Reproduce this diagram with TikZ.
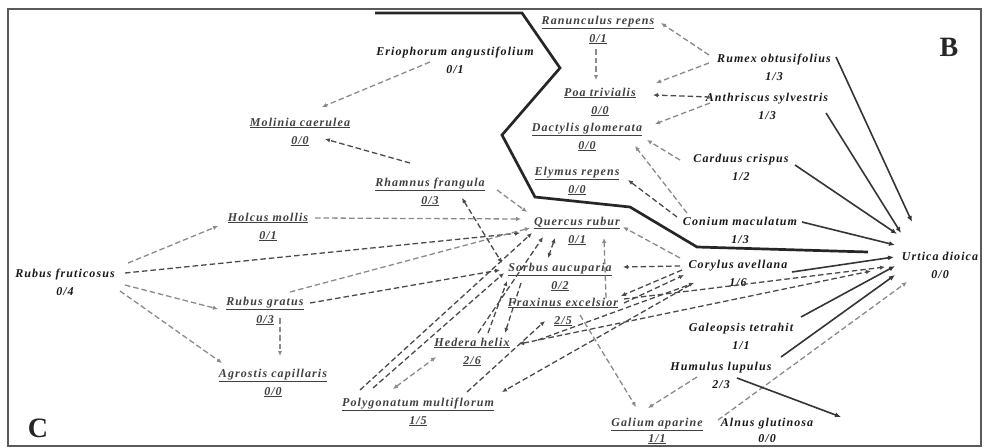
\documentclass[tikz,border=0pt]{standalone}
\usepackage{fontspec}
\setmainfont{Liberation Serif}
\newfontfamily\lblf[LetterSpace=9]{Liberation Serif}
\usetikzlibrary{arrows.meta}
\definecolor{lightc}{HTML}{8A8A8A}
\definecolor{darkc}{HTML}{4A4A4A}
\definecolor{solc}{HTML}{353535}
\definecolor{framec}{HTML}{5A5A5A}
\newcommand{\undl}[1]{\underline{#1}}
\tikzset{
  plant/.style={align=center, inner sep=1pt, font=\lblf\fontsize{12}{18}\selectfont\bfseries\itshape},
  plb/.style={plant, text=black!90},
  plu/.style={plant, text=black!75},
  ed/.style={dash pattern=on 5.5pt off 3pt, line width=1.3pt, -{Latex[length=5pt,width=4.5pt]}},
  edl/.style={ed, draw=lightc},
  edd/.style={ed, draw=darkc},
  bi/.style={{Latex[length=5pt,width=4.5pt]}-{Latex[length=5pt,width=4.5pt]}},
  sol/.style={line width=1.6pt, draw=solc, -{Latex[length=6pt,width=5pt]}},
  bigl/.style={font=\fontsize{28}{28}\selectfont\bfseries, text=black!85, inner sep=0pt}
}
\begin{document}
\begin{tikzpicture}[x=1pt,y=-1pt]
\useasboundingbox (0,0) rectangle (984,447);
\fill[white] (0,0) rectangle (984,447);
\draw[framec, line width=1.6pt] (8,9) rectangle (981,446);
% boundary line
\draw[black!85, line width=2.7pt, line join=miter] (375,13) -- (522,13) -- (560,68) -- (502,135) -- (535,197) -- (630,207) -- (697,247) -- (868,252);
% nodes
\node[plb] (erio) at (455,60) {Eriophorum angustifolium\\0/1};
\node[plu] (molinia) at (300,132) {\undl{Molinia caerulea}\\\undl{0/0}};
\node[plu] (ranunculus) at (598,30) {\undl{Ranunculus repens}\\\undl{0/1}};
\node[plb] (rumex) at (774,67) {Rumex obtusifolius\\1/3};
\node[plu] (poa) at (600,102) {\undl{Poa trivialis}\\\undl{0/0}};
\node[plb] (anthriscus) at (767,106) {Anthriscus sylvestris\\1/3};
\node[plu] (dactylis) at (587,137) {\undl{Dactylis glomerata}\\\undl{0/0}};
\node[plb] (carduus) at (741,167) {Carduus crispus\\1/2};
\node[plu] (elymus) at (577,181) {\undl{Elymus repens}\\\undl{0/0}};
\node[plu] (rhamnus) at (430,192) {\undl{Rhamnus frangula}\\\undl{0/3}};
\node[plb] (conium) at (740,230) {Conium maculatum\\1/3};
\node[plu] (quercus) at (577,231) {\undl{Quercus rubur}\\\undl{0/1}};
\node[plu] (holcus) at (268,227) {\undl{Holcus mollis}\\\undl{0/1}};
\node[plb] (urtica) at (940,265) {Urtica dioica\\0/0};
\node[plb] (corylus) at (738,273) {Corylus avellana\\1/6};
\node[plb] (rubfr) at (65,282) {Rubus fruticosus\\0/4};
\node[plu] (sorbus) at (560,277) {\undl{Sorbus aucuparia}\\\undl{0/2}};
\node[plu] (rubgr) at (265,311) {\undl{Rubus gratus}\\\undl{0/3}};
\node[plu] (fraxinus) at (563,312) {\undl{Fraxinus excelsior}\\\undl{2/5}};
\node[plb] (galeopsis) at (741,336) {Galeopsis tetrahit\\1/1};
\node[plu] (hedera) at (472,352) {\undl{Hedera helix}\\\undl{2/6}};
\node[plb] (humulus) at (721,375) {Humulus lupulus\\2/3};
\node[plu] (agrostis) at (273,383) {\undl{Agrostis capillaris}\\\undl{0/0}};
\node[plu] (polygonatum) at (418,412) {\undl{Polygonatum multiflorum}\\\undl{1/5}};
\node[plu] (galium) at (657,431) {\undl{Galium aparine}\\[-2pt]\undl{1/1}};
\node[plb] (alnus) at (767,430) {Alnus glutinosa\\[-2pt]0/0};
\node[bigl] (lblB) at (949,47) {B};
\node[bigl] (lblC) at (38,428) {C};
% dashed connectors
\draw[edl] ([shift={(-25,2)}]erio.center) -- ([shift={(22,-25)}]molinia.center);
\draw[edd] ([shift={(-20,-29)}]rhamnus.center) -- ([shift={(25,7)}]molinia.center);
\draw[edl] ([shift={(-2,19)}]ranunculus.center) -- ([shift={(-4,-22)}]poa.center);
\draw[edl] ([shift={(-65,-12)}]rumex.center) -- ([shift={(63,-7)}]ranunculus.center);
\draw[edl] ([shift={(-65,-4)}]rumex.center) -- ([shift={(56,-19)}]poa.center);
\draw[edd] ([shift={(-57,-9)}]anthriscus.center) -- ([shift={(53,-7)}]poa.center);
\draw[edl] ([shift={(-57,-3)}]anthriscus.center) -- ([shift={(68,-13)}]dactylis.center);
\draw[edl] ([shift={(-61,-7)}]carduus.center) -- ([shift={(60,3)}]dactylis.center);
\draw[edl] ([shift={(-53,-17)}]conium.center) -- ([shift={(48,9)}]dactylis.center);
\draw[edd] ([shift={(-63,-13)}]conium.center) -- ([shift={(51,-1)}]elymus.center);
\draw[edl] ([shift={(-58,-15)}]corylus.center) -- ([shift={(46,-4)}]quercus.center);
\draw[edd] ([shift={(-58,-7)}]corylus.center) -- ([shift={(63,-10)}]sorbus.center);
\draw[edd] ([shift={(-56,-3)}]corylus.center) -- ([shift={(58,-16)}]fraxinus.center);
\draw[edd] ([shift={(61,-9)}]fraxinus.center) -- ([shift={(-54,2)}]corylus.center);
\draw[edd] ([shift={(66,-12)}]hedera.center) -- ([shift={(-44,10)}]corylus.center);
\draw[edd,bi] ([shift={(47,-8)}]hedera.center) -- ([shift={(-69,6)}]urtica.center);
\draw[edd] ([shift={(61,-13)}]fraxinus.center) -- ([shift={(-55,2)}]urtica.center);
\draw[edd,bi] ([shift={(-22,7)}]quercus.center) -- ([shift={(-12,-19)}]sorbus.center);
\draw[edl] ([shift={(43,-14)}]fraxinus.center) -- ([shift={(27,7)}]quercus.center);
\draw[edd] ([shift={(6,-19)}]hedera.center) -- ([shift={(-34,6)}]quercus.center);
\draw[edd] ([shift={(16,-19)}]hedera.center) -- ([shift={(-53,4)}]sorbus.center);
\draw[edd] ([shift={(-39,6)}]sorbus.center) -- ([shift={(33,-19)}]hedera.center);
\draw[edd] ([shift={(-58,-22)}]polygonatum.center) -- ([shift={(-45,2)}]quercus.center);
\draw[edd] ([shift={(-45,-24)}]polygonatum.center) -- ([shift={(-56,-4)}]sorbus.center);
\draw[edl,bi] ([shift={(-25,-23)}]polygonatum.center) -- ([shift={(-36,5)}]hedera.center);
\draw[edd] ([shift={(49,-20)}]polygonatum.center) -- ([shift={(-18,9)}]fraxinus.center);
\draw[edd] ([shift={(-48,12)}]corylus.center) -- ([shift={(84,-20)}]polygonatum.center);
\draw[edl] ([shift={(17,3)}]fraxinus.center) -- ([shift={(-21,-24)}]galium.center);
\draw[edl] ([shift={(-24,2)}]humulus.center) -- ([shift={(-9,-23)}]galium.center);
\draw[edl] ([shift={(61,-11)}]galium.center) -- ([shift={(-33,17)}]urtica.center);
\draw[edl] ([shift={(63,-19)}]rubfr.center) -- ([shift={(-50,-1)}]holcus.center);
\draw[edd] ([shift={(60,-9)}]rubfr.center) -- ([shift={(-57,2)}]quercus.center);
\draw[edl] ([shift={(60,3)}]rubfr.center) -- ([shift={(-47,-2)}]rubgr.center);
\draw[edl] ([shift={(55,9)}]rubfr.center) -- ([shift={(-51,-20)}]agrostis.center);
\draw[edl] ([shift={(15,7)}]rubgr.center) -- ([shift={(7,-27)}]agrostis.center);
\draw[edl] ([shift={(47,-9)}]holcus.center) -- ([shift={(-56,-12)}]quercus.center);
\draw[edl] ([shift={(25,-19)}]rubgr.center) -- ([shift={(-47,-3)}]quercus.center);
\draw[edd] ([shift={(45,-8)}]rubgr.center) -- ([shift={(-60,-7)}]sorbus.center);
\draw[edl] ([shift={(67,-2)}]rhamnus.center) -- ([shift={(-50,-19)}]quercus.center);
\draw[edd,bi] ([shift={(32,6)}]rhamnus.center) -- ([shift={(-58,-14)}]sorbus.center);
% solid connectors
\draw[sol] ([shift={(62,-10)}]rumex.center) -- ([shift={(-28,-43)}]urtica.center);
\draw[sol] ([shift={(59,7)}]anthriscus.center) -- ([shift={(-39,-32)}]urtica.center);
\draw[sol] ([shift={(54,-2)}]carduus.center) -- ([shift={(-43,-31)}]urtica.center);
\draw[sol] ([shift={(62,-8)}]conium.center) -- ([shift={(-45,-20)}]urtica.center);
\draw[sol] ([shift={(54,-1)}]corylus.center) -- ([shift={(-46,-8)}]urtica.center);
\draw[sol] ([shift={(60,-19)}]galeopsis.center) -- ([shift={(-45,1)}]urtica.center);
\draw[sol] ([shift={(60,-18)}]humulus.center) -- ([shift={(-45,10)}]urtica.center);
\draw[sol] ([shift={(16,3)}]humulus.center) -- ([shift={(74,-13)}]alnus.center);
\end{tikzpicture}
\end{document}
